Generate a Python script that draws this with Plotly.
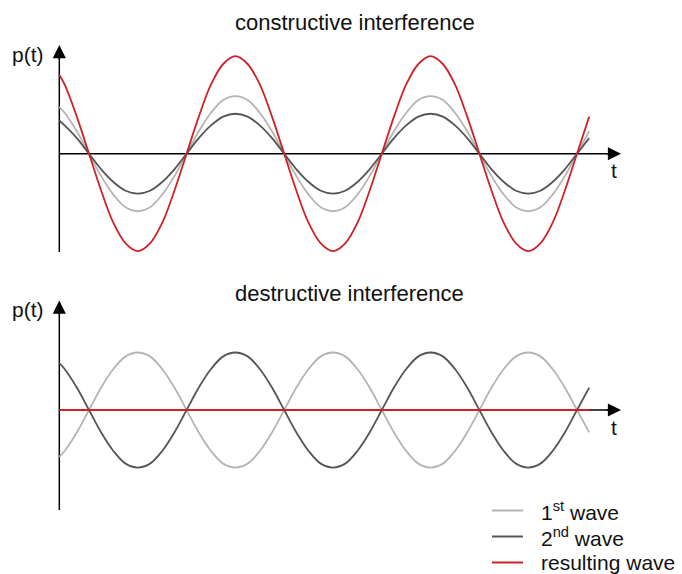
import plotly.graph_objects as go

# Time samples (quarter-period units, first zero crossing at t = 0)
t = [-0.61, -0.5, -0.25,
     0, 0.25, 0.5, 0.75, 1, 1.25, 1.5, 1.75, 2, 2.25, 2.5, 2.75, 3, 3.25, 3.5, 3.75,
     4, 4.25, 4.5, 4.75, 5, 5.25, 5.5, 5.75, 6, 6.25, 6.5, 6.75, 7, 7.25, 7.5, 7.75,
     8, 8.25, 8.5, 8.75, 9, 9.25, 9.5, 9.75, 10, 10.25]

# Constructive interference: two in-phase waves and their sum
con_wave1 = [0.48, 0.42, 0.23,
             0, -0.23, -0.42, -0.55, -0.59, -0.55, -0.42, -0.23,
             0, 0.23, 0.42, 0.55, 0.59, 0.55, 0.42, 0.23,
             0, -0.23, -0.42, -0.55, -0.59, -0.55, -0.42, -0.23,
             0, 0.23, 0.42, 0.55, 0.59, 0.55, 0.42, 0.23,
             0, -0.23, -0.42, -0.55, -0.59, -0.55, -0.42, -0.23,
             0, 0.23]
con_wave2 = [0.34, 0.29, 0.16,
             0, -0.16, -0.29, -0.38, -0.41, -0.38, -0.29, -0.16,
             0, 0.16, 0.29, 0.38, 0.41, 0.38, 0.29, 0.16,
             0, -0.16, -0.29, -0.38, -0.41, -0.38, -0.29, -0.16,
             0, 0.16, 0.29, 0.38, 0.41, 0.38, 0.29, 0.16,
             0, -0.16, -0.29, -0.38, -0.41, -0.38, -0.29, -0.16,
             0, 0.16]
con_result = [0.81, 0.71, 0.38,
              0, -0.38, -0.71, -0.92, -1.0, -0.92, -0.71, -0.38,
              0, 0.38, 0.71, 0.92, 1.0, 0.92, 0.71, 0.38,
              0, -0.38, -0.71, -0.92, -1.0, -0.92, -0.71, -0.38,
              0, 0.38, 0.71, 0.92, 1.0, 0.92, 0.71, 0.38,
              0, -0.38, -0.71, -0.92, -1.0, -0.92, -0.71, -0.38,
              0, 0.38]

# Destructive interference: two waves in antiphase cancel out
des_wave1 = [-0.48, -0.42, -0.23,
             0, 0.23, 0.42, 0.55, 0.59, 0.55, 0.42, 0.23,
             0, -0.23, -0.42, -0.55, -0.59, -0.55, -0.42, -0.23,
             0, 0.23, 0.42, 0.55, 0.59, 0.55, 0.42, 0.23,
             0, -0.23, -0.42, -0.55, -0.59, -0.55, -0.42, -0.23,
             0, 0.23, 0.42, 0.55, 0.59, 0.55, 0.42, 0.23,
             0, -0.23]
des_wave2 = [0.48, 0.42, 0.23,
             0, -0.23, -0.42, -0.55, -0.59, -0.55, -0.42, -0.23,
             0, 0.23, 0.42, 0.55, 0.59, 0.55, 0.42, 0.23,
             0, -0.23, -0.42, -0.55, -0.59, -0.55, -0.42, -0.23,
             0, 0.23, 0.42, 0.55, 0.59, 0.55, 0.42, 0.23,
             0, -0.23, -0.42, -0.55, -0.59, -0.55, -0.42, -0.23,
             0, 0.23]
des_result = [0] * len(t)

titles = ["constructive interference", "destructive interference"]
legend_labels = ["1<sup>st</sup> wave", "2<sup>nd</sup> wave", "resulting wave"]

C1 = "#b4b4b4"
C2 = "#555555"
CR = "#cc2229"
FONT = "Liberation Sans, Arial, Helvetica, sans-serif"
W, H = 682, 574

# Pixel geometry -> data ranges
X0_PX, QUARTER_PX = 89.0, 48.8          # first zero crossing, quarter period
UNIT_PX = 97.5                          # one amplitude unit in pixels
TOP_ZERO, BOT_ZERO = 153.7, 410.0       # baselines of the two panels


def px_x(px):
    return (px - X0_PX) / QUARTER_PX


def px_y(px, zero):
    return (zero - px) / UNIT_PX


fig = go.Figure()

line_kw = dict(shape="spline", smoothing=1.0, width=1.8)
for ys, col in [(con_wave1, C1), (con_wave2, C2), (con_result, CR)]:
    fig.add_trace(go.Scatter(x=t, y=ys, mode="lines", yaxis="y",
                             line=dict(color=col, **line_kw),
                             hoverinfo="skip", showlegend=False))
for ys, col in [(des_wave1, C1), (des_wave2, C2), (des_result, CR)]:
    fig.add_trace(go.Scatter(x=t, y=ys, mode="lines", yaxis="y2",
                             line=dict(color=col, **line_kw),
                             hoverinfo="skip", showlegend=False))

axis_off = dict(visible=False, showgrid=False, zeroline=False, fixedrange=True)
fig.update_layout(
    width=W, height=H,
    margin=dict(l=0, r=0, t=0, b=0),
    paper_bgcolor="white", plot_bgcolor="white",
    font=dict(family=FONT, color="#111111"),
    xaxis=dict(range=[px_x(0), px_x(W)], **axis_off),
    yaxis=dict(range=[px_y(H, TOP_ZERO), px_y(0, TOP_ZERO)], **axis_off),
    yaxis2=dict(range=[px_y(H, BOT_ZERO), px_y(0, BOT_ZERO)],
                overlaying="y", **axis_off),
    showlegend=False,
)

ann = []
shapes = []
# Coordinate axes (lines under the curves, arrowheads on top)
x_axis_start = px_x(59.3)
x_axis_tip = px_x(621)
for yref, zero, y_tip, y_bot in [("y", TOP_ZERO, 45, 252), ("y2", BOT_ZERO, 300.5, 510)]:
    axis_line = dict(color="#000000", width=1.5)
    shapes.append(dict(type="line", xref="x", yref=yref, layer="below",
                       x0=x_axis_start, x1=x_axis_tip - 0.2, y0=0, y1=0,
                       line=axis_line))
    shapes.append(dict(type="line", xref="x", yref=yref, layer="below",
                       x0=x_axis_start, x1=x_axis_start,
                       y0=px_y(y_bot, zero), y1=px_y(y_tip, zero) - 0.05,
                       line=axis_line))
    head = dict(text="", showarrow=True, arrowhead=2, arrowsize=1.75,
                arrowwidth=1.5, arrowcolor="#000000", xref="x", yref=yref)
    ann.append(dict(x=x_axis_tip, y=0, ax=-16, ay=0, **head))
    ann.append(dict(x=x_axis_start, y=px_y(y_tip, zero), ax=0, ay=16, **head))
    # axis labels
    ann.append(dict(text="p(t)", x=px_x(28), y=px_y(y_tip + 9, zero),
                    xref="x", yref=yref, showarrow=False,
                    font=dict(size=21, family=FONT, color="#111111"),
                    xanchor="center", yanchor="middle"))
    ann.append(dict(text="t", x=px_x(613.5), y=px_y(zero + 17, zero),
                    xref="x", yref=yref, showarrow=False,
                    font=dict(size=21, family=FONT, color="#111111"),
                    xanchor="center", yanchor="middle"))

# Panel titles
for txt, ypx, xc in [(titles[0], 22, 355), (titles[1], 293, 349)]:
    ann.append(dict(text=txt, x=xc / W, y=1 - ypx / H, xref="paper", yref="paper",
                    showarrow=False, xanchor="center", yanchor="middle",
                    font=dict(size=22, family=FONT, color="#111111")))

# Legend
for lab, col, ypx in zip(legend_labels, [C1, C2, CR], [510.5, 536.5, 562.5]):
    shapes.append(dict(type="line", xref="paper", yref="paper",
                       x0=492 / W, x1=523 / W, y0=1 - ypx / H, y1=1 - ypx / H,
                       line=dict(color=col, width=2)))
    ann.append(dict(text=lab, x=539 / W, y=1 - ypx / H, xref="paper", yref="paper",
                    showarrow=False, xanchor="left", yanchor="middle",
                    font=dict(size=21, family=FONT, color="#111111")))

fig.update_layout(annotations=ann, shapes=shapes)

fig.write_html("out.html")
